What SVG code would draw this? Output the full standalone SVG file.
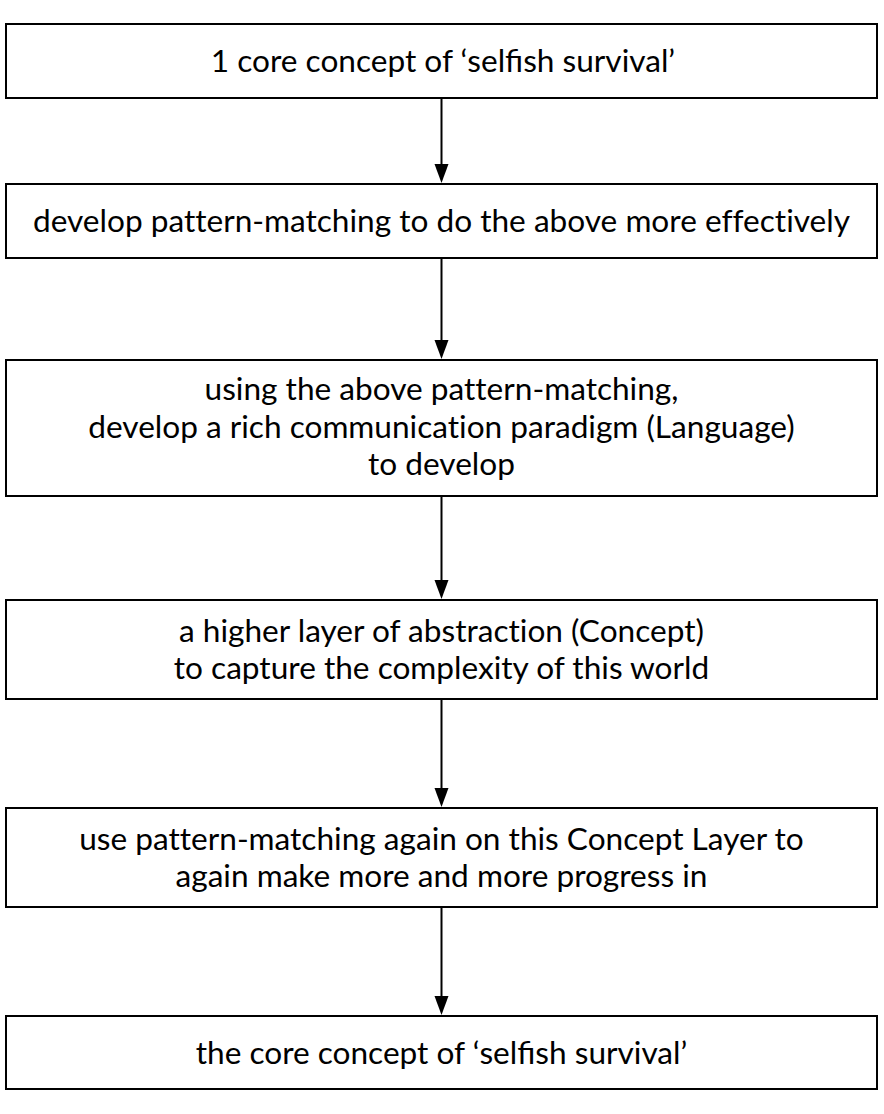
<svg xmlns="http://www.w3.org/2000/svg" width="884" height="1114" viewBox="0 0 884 1114">
<defs>
<style>
.box{fill:#fff;stroke:#000;stroke-width:2}
.t{font-family:Lato,"Liberation Sans",sans-serif;font-size:31.6px;fill:#000;text-anchor:middle;font-variant-ligatures:none}
.lig{font-variant-ligatures:common-ligatures}
.c{stroke:#000;stroke-width:2;fill:none}
</style>
</defs>
<rect width="884" height="1114" fill="#fff"/>
<g id="connectors">
<line class="c" x1="441.5" y1="98" x2="441.5" y2="164"/>
<path d="M434.5,164 L448.5,164 L441.5,183 Z"/>
<line class="c" x1="441.5" y1="258" x2="441.5" y2="340"/>
<path d="M434.5,340 L448.5,340 L441.5,359 Z"/>
<line class="c" x1="441.5" y1="496" x2="441.5" y2="580"/>
<path d="M434.5,580 L448.5,580 L441.5,599 Z"/>
<line class="c" x1="441.5" y1="699" x2="441.5" y2="788"/>
<path d="M434.5,788 L448.5,788 L441.5,807 Z"/>
<line class="c" x1="441.5" y1="907" x2="441.5" y2="996"/>
<path d="M434.5,996 L448.5,996 L441.5,1015 Z"/>
</g>
<g id="n1">
<rect class="box" x="6" y="24" width="871" height="74"/>
<text class="t" x="443" y="72">1 core concept of ‘<tspan class="lig">selfish</tspan> survival’</text>
</g>
<g id="n2">
<rect class="box" x="6" y="184" width="871" height="74"/>
<text class="t" x="441.5" y="232">develop pattern-matching to do the above more effectively</text>
</g>
<g id="n3">
<rect class="box" x="6" y="360" width="871" height="136"/>
<text class="t" x="441.5" y="400">using the above pattern-matching,</text>
<text class="t" x="441.5" y="437.7">develop a rich communication paradigm (Language)</text>
<text class="t" x="441.5" y="475.4">to develop</text>
</g>
<g id="n4">
<rect class="box" x="6" y="600" width="871" height="99"/>
<text class="t" x="441.5" y="641.7">a higher layer of abstraction (Concept)</text>
<text class="t" x="441.5" y="679.4">to capture the complexity of this world</text>
</g>
<g id="n5">
<rect class="box" x="6" y="808" width="871" height="99"/>
<text class="t" x="441.5" y="849.7">use pattern-matching again on this Concept Layer to</text>
<text class="t" x="441.5" y="887.4">again make more and more progress in</text>
</g>
<g id="n6">
<rect class="box" x="6" y="1016" width="871" height="73"/>
<text class="t" x="441.5" y="1063.5">the core concept of ‘<tspan class="lig">selfish</tspan> survival’</text>
</g>
</svg>
